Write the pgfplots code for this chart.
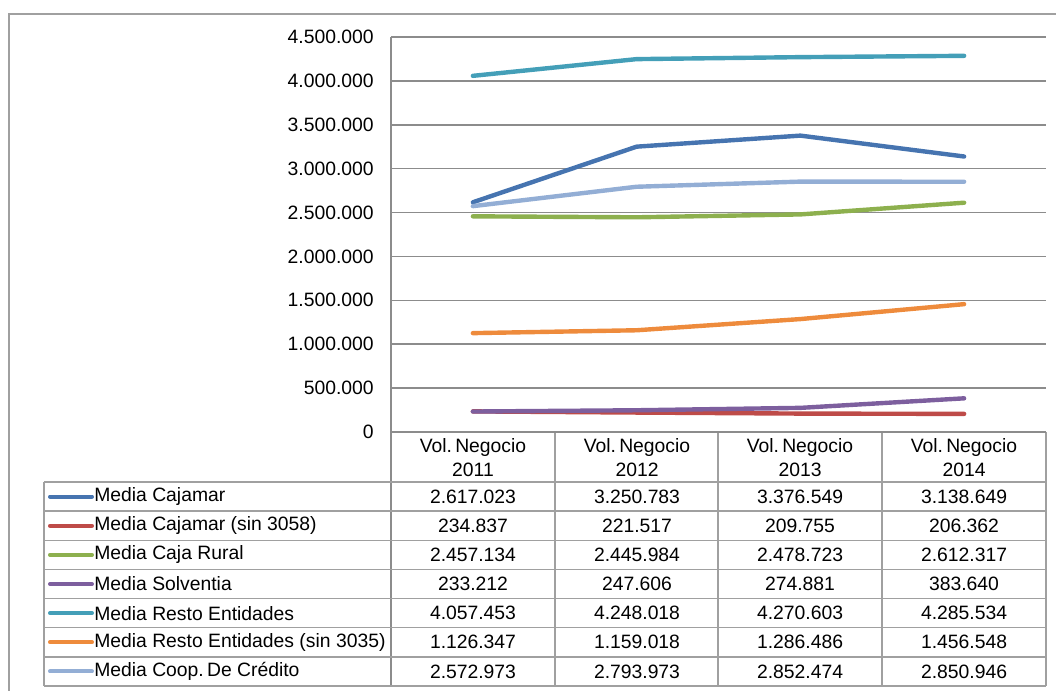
\documentclass[border=0pt]{standalone}
\usepackage{pgfplots}
\pgfplotsset{compat=1.18}
\usepackage{pgfplotstable}
\usepackage{fontspec}
\setmainfont{Liberation Sans}
\definecolor{cBlue}{HTML}{4674B0}
\definecolor{cRed}{HTML}{BE4B48}
\definecolor{cGreen}{HTML}{8DB04E}
\definecolor{cPurple}{HTML}{7D5F9E}
\definecolor{cTeal}{HTML}{449FB8}
\definecolor{cOrange}{HTML}{EE8B3C}
\definecolor{cLight}{HTML}{93AED5}
\definecolor{gridc}{HTML}{8C8C8C}
\definecolor{tabc}{HTML}{A0A0A0}
\newcommand\tf{\fontsize{14.5}{17}\selectfont}

\pgfplotstableread{
x cajamar cajsin cajarural solventia resto restosin coop
0.5 2617023 234837 2457134 233212 4057453 1126347 2572973
1.5 3250783 221517 2445984 247606 4248018 1159018 2793973
2.5 3376549 209755 2478723 274881 4270603 1286486 2852474
3.5 3138649 206362 2612317 383640 4285534 1456548 2850946
}\datatable

\begin{document}
\begin{tikzpicture}
\begin{scope}[x=0.75pt,y=-0.75pt]
\useasboundingbox (0,0) rectangle (1056,691);
\coordinate (O) at (391,432);
% outer frame
\draw[tabc, line width=1.1pt] (9,691) -- (9,14) -- (1056,14);
% table lines
\draw[gridc, line width=1.1pt] (391,37) -- (391,686);
\foreach \xx in {555,718,882,1046} \draw[tabc, line width=1.1pt] (\xx,432) -- (\xx,686);
\draw[tabc, line width=1.1pt] (44,482) -- (44,686);
\foreach \k in {0,...,7} {
  \pgfmathsetmacro\yy{482+29.14*\k}
  \draw[tabc, line width=1.1pt] (44,\yy) -- (1046,\yy);
}
% header
\foreach \xx/\yr in {473/2011,637/2012,800/2013,964/2014}
  \node[align=center, font=\tf, inner sep=0pt] at (\xx,458) {Vol.\,Negocio\\[1pt]\yr};
% rows
\foreach \i/\col/\name/\a/\b/\c/\d in {
 0/cBlue/{Media Cajamar}/2.617.023/3.250.783/3.376.549/3.138.649,
 1/cRed/{Media Cajamar (sin 3058)}/234.837/221.517/209.755/206.362,
 2/cGreen/{Media Caja Rural}/2.457.134/2.445.984/2.478.723/2.612.317,
 3/cPurple/{Media Solventia}/233.212/247.606/274.881/383.640,
 4/cTeal/{Media Resto Entidades}/4.057.453/4.248.018/4.270.603/4.285.534,
 5/cOrange/{Media Resto Entidades (sin 3035)}/1.126.347/1.159.018/1.286.486/1.456.548,
 6/cLight/{Media Coop.\,De Crédito}/2.572.973/2.793.973/2.852.474/2.850.946} {
  \pgfmathsetmacro\yy{482+29.14*(\i+0.5)}
  \draw[\col, line width=3pt, line cap=round] (50,\yy) -- (92,\yy);
  \node[anchor=west, font=\tf, inner sep=0pt] at (94,\yy) {\name};
  \node[font=\tf, inner sep=0pt] at (473,\yy) {\a};
  \node[font=\tf, inner sep=0pt] at (637,\yy) {\b};
  \node[font=\tf, inner sep=0pt] at (800,\yy) {\c};
  \node[font=\tf, inner sep=0pt] at (964,\yy) {\d};
}
\end{scope}
\begin{axis}[at={(O)}, anchor=south west, scale only axis,
  width=491.25pt, height=296.25pt,
  xmin=0, xmax=4, ymin=0, ymax=4500000,
  xtick=\empty, ytick={0,500000,...,4500000},
  scaled y ticks=false,
  ymajorgrids, grid style={gridc, line width=1.1pt},
  axis line style={draw=none}, major tick length=0pt,
  yticklabel style={/pgf/number format/fixed, /pgf/number format/precision=0,
    /pgf/number format/1000 sep={.}, /pgf/number format/assume math mode=true,
    font=\tf, inner sep=0pt, xshift=-12.75pt},
  every axis plot/.append style={line width=3.3pt, line cap=round, line join=round, mark=none},
  clip=false]
\addplot[cBlue] table[x=x, y=cajamar] {\datatable};
\addplot[cRed] table[x=x, y=cajsin] {\datatable};
\addplot[cGreen] table[x=x, y=cajarural] {\datatable};
\addplot[cPurple] table[x=x, y=solventia] {\datatable};
\addplot[cTeal] table[x=x, y=resto] {\datatable};
\addplot[cOrange] table[x=x, y=restosin] {\datatable};
\addplot[cLight] table[x=x, y=coop] {\datatable};
\end{axis}
\end{tikzpicture}
\end{document}
